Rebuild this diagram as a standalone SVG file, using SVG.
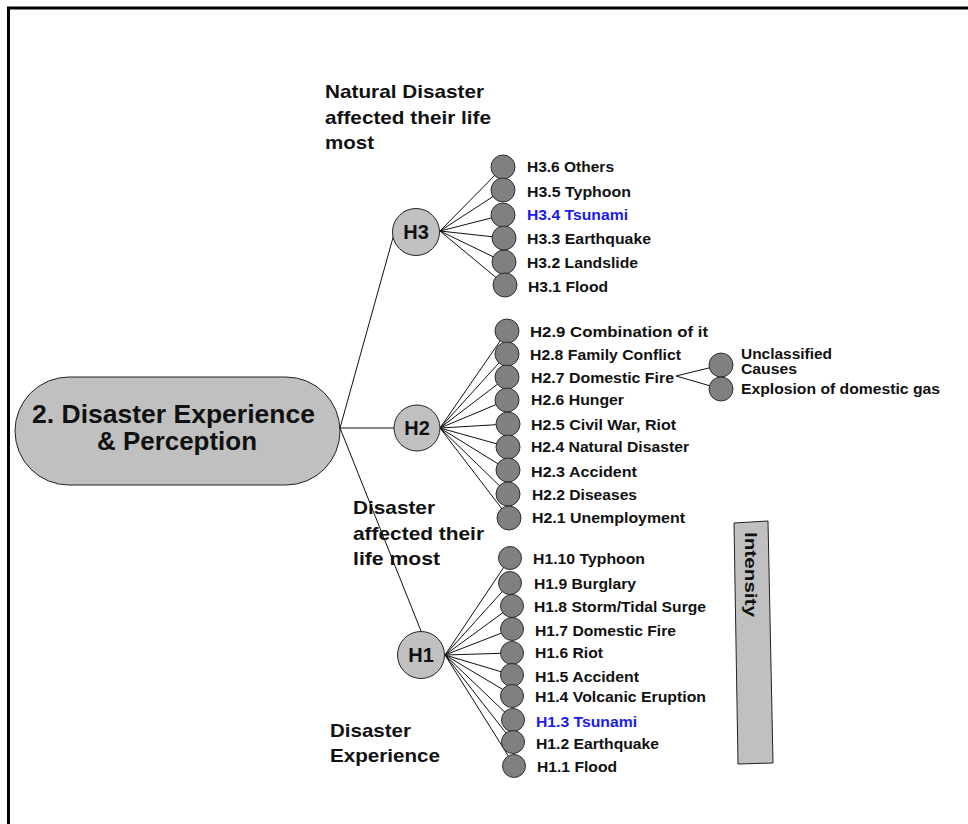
<svg xmlns="http://www.w3.org/2000/svg" width="968" height="824" viewBox="0 0 968 824">
  <style>
    text { font-family: "Liberation Sans", Arial, sans-serif; font-weight: bold; fill: #111; }
    .lbl { font-size: 15px; }
    .sub { font-size: 14px; }
    .blue { fill: #1a1af0; }
    .head { font-size: 19px; }
    .hub { font-size: 20px; text-anchor: middle; }
    .hubc { fill: #c0c0c0; stroke: #222; stroke-width: 1; }
    .leaf { fill: #808080; stroke: #222; stroke-width: 0.9; }
    .conn line { stroke: #111; stroke-width: 1; }
  </style>

  <!-- frame -->
  <g id="frame" fill="none" stroke="#000" stroke-width="3">
    <line x1="7" y1="8" x2="968" y2="8"/>
    <line x1="8.5" y1="7" x2="8.5" y2="824"/>
  </g>

  <!-- connectors -->
  <g id="connectors" class="conn">
    <!-- root to hubs -->
    <line x1="340" y1="428" x2="394" y2="234"/>
    <line x1="340" y1="428" x2="395" y2="428"/>
    <line x1="340" y1="428" x2="421" y2="631"/>
    <!-- H3 fan -->
    <line x1="440" y1="231" x2="503" y2="167"/>
    <line x1="440" y1="231" x2="503" y2="190"/>
    <line x1="440" y1="231" x2="503" y2="215"/>
    <line x1="440" y1="231" x2="504" y2="238"/>
    <line x1="440" y1="231" x2="504" y2="262"/>
    <line x1="440" y1="231" x2="505" y2="285"/>
    <!-- H2 fan -->
    <line x1="440" y1="428" x2="507" y2="331"/>
    <line x1="440" y1="428" x2="507" y2="354"/>
    <line x1="440" y1="428" x2="507" y2="377"/>
    <line x1="440" y1="428" x2="507" y2="400"/>
    <line x1="440" y1="428" x2="508" y2="424"/>
    <line x1="440" y1="428" x2="508" y2="447"/>
    <line x1="440" y1="428" x2="508" y2="470"/>
    <line x1="440" y1="428" x2="508" y2="494"/>
    <line x1="440" y1="428" x2="509" y2="518"/>
    <!-- H2.7 sub-branch -->
    <line x1="676" y1="376" x2="721" y2="365"/>
    <line x1="676" y1="376" x2="721" y2="389"/>
    <!-- H1 fan -->
    <line x1="445" y1="655" x2="510" y2="558"/>
    <line x1="445" y1="655" x2="510" y2="583"/>
    <line x1="445" y1="655" x2="512" y2="606"/>
    <line x1="445" y1="655" x2="512" y2="629"/>
    <line x1="445" y1="655" x2="512" y2="653"/>
    <line x1="445" y1="655" x2="512" y2="675"/>
    <line x1="445" y1="655" x2="512" y2="695"/>
    <line x1="445" y1="655" x2="513" y2="720"/>
    <line x1="445" y1="655" x2="513" y2="742"/>
    <line x1="445" y1="655" x2="514" y2="765"/>
  </g>

  <!-- root -->
  <g id="root">
    <rect x="15" y="377" width="325" height="108" rx="54" ry="54" class="hubc"/>
    <text x="32" y="423" font-size="25" textLength="283" lengthAdjust="spacingAndGlyphs">2. Disaster Experience</text>
    <text x="97" y="450" font-size="25" textLength="160" lengthAdjust="spacingAndGlyphs">&amp; Perception</text>
  </g>

  <!-- group headings -->
  <g id="heading-h3" class="head">
    <text x="325" y="98" textLength="159" lengthAdjust="spacingAndGlyphs">Natural Disaster</text>
    <text x="325" y="124" textLength="166" lengthAdjust="spacingAndGlyphs">affected their life</text>
    <text x="325" y="149" textLength="49" lengthAdjust="spacingAndGlyphs">most</text>
  </g>
  <g id="heading-h2" class="head">
    <text x="353" y="514" textLength="82" lengthAdjust="spacingAndGlyphs">Disaster</text>
    <text x="353" y="540" textLength="131" lengthAdjust="spacingAndGlyphs">affected their</text>
    <text x="353" y="565" textLength="87" lengthAdjust="spacingAndGlyphs">life most</text>
  </g>
  <g id="heading-h1" class="head">
    <text x="330" y="737" textLength="81" lengthAdjust="spacingAndGlyphs">Disaster</text>
    <text x="330" y="762" textLength="110" lengthAdjust="spacingAndGlyphs">Experience</text>
  </g>

  <!-- hubs -->
  <g id="H3">
    <circle cx="416" cy="232" r="23.5" class="hubc"/>
    <text x="416" y="239" class="hub">H3</text>
  </g>
  <g id="H2">
    <circle cx="417" cy="428" r="23" class="hubc"/>
    <text x="417" y="435" class="hub">H2</text>
  </g>
  <g id="H1">
    <circle cx="421" cy="655" r="23.5" class="hubc"/>
    <text x="421" y="662" class="hub">H1</text>
  </g>

  <!-- H3 leaves -->
  <g id="H3.6"><circle cx="503" cy="167" r="12" class="leaf"/><text x="527" y="172" class="lbl" textLength="87" lengthAdjust="spacingAndGlyphs">H3.6 Others</text></g>
  <g id="H3.5"><circle cx="503" cy="190" r="12" class="leaf"/><text x="527" y="197" class="lbl" textLength="104" lengthAdjust="spacingAndGlyphs">H3.5 Typhoon</text></g>
  <g id="H3.4"><circle cx="503" cy="215" r="12" class="leaf"/><text x="527" y="220" class="lbl blue" textLength="101" lengthAdjust="spacingAndGlyphs">H3.4 Tsunami</text></g>
  <g id="H3.3"><circle cx="504" cy="238" r="12" class="leaf"/><text x="527" y="244" class="lbl" textLength="124" lengthAdjust="spacingAndGlyphs">H3.3 Earthquake</text></g>
  <g id="H3.2"><circle cx="504" cy="262" r="12" class="leaf"/><text x="527" y="268" class="lbl" textLength="111" lengthAdjust="spacingAndGlyphs">H3.2 Landslide</text></g>
  <g id="H3.1"><circle cx="505" cy="285" r="12" class="leaf"/><text x="528" y="292" class="lbl" textLength="80" lengthAdjust="spacingAndGlyphs">H3.1 Flood</text></g>

  <!-- H2 leaves -->
  <g id="H2.9"><circle cx="507" cy="331" r="12" class="leaf"/><text x="530" y="337" class="lbl" textLength="178" lengthAdjust="spacingAndGlyphs">H2.9 Combination of it</text></g>
  <g id="H2.8"><circle cx="507" cy="354" r="12" class="leaf"/><text x="530" y="360" class="lbl" textLength="151" lengthAdjust="spacingAndGlyphs">H2.8 Family Conflict</text></g>
  <g id="H2.7"><circle cx="507" cy="377" r="12" class="leaf"/><text x="531" y="383" class="lbl" textLength="143" lengthAdjust="spacingAndGlyphs">H2.7 Domestic Fire</text></g>
  <g id="H2.6"><circle cx="507" cy="400" r="12" class="leaf"/><text x="531" y="405" class="lbl" textLength="93" lengthAdjust="spacingAndGlyphs">H2.6 Hunger</text></g>
  <g id="H2.5"><circle cx="508" cy="424" r="12" class="leaf"/><text x="531" y="430" class="lbl" textLength="145" lengthAdjust="spacingAndGlyphs">H2.5 Civil War, Riot</text></g>
  <g id="H2.4"><circle cx="508" cy="447" r="12" class="leaf"/><text x="531" y="452" class="lbl" textLength="158" lengthAdjust="spacingAndGlyphs">H2.4 Natural Disaster</text></g>
  <g id="H2.3"><circle cx="508" cy="470" r="12" class="leaf"/><text x="531" y="477" class="lbl" textLength="106" lengthAdjust="spacingAndGlyphs">H2.3 Accident</text></g>
  <g id="H2.2"><circle cx="508" cy="494" r="12" class="leaf"/><text x="532" y="500" class="lbl" textLength="105" lengthAdjust="spacingAndGlyphs">H2.2 Diseases</text></g>
  <g id="H2.1"><circle cx="509" cy="518" r="12" class="leaf"/><text x="532" y="523" class="lbl" textLength="153" lengthAdjust="spacingAndGlyphs">H2.1 Unemployment</text></g>

  <!-- H2.7 sub-leaves -->
  <g id="H2.7.1"><circle cx="721" cy="365" r="12" class="leaf"/><text x="741" y="359" class="sub" textLength="91" lengthAdjust="spacingAndGlyphs">Unclassified</text><text x="741" y="374" class="sub" textLength="56" lengthAdjust="spacingAndGlyphs">Causes</text></g>
  <g id="H2.7.2"><circle cx="721" cy="389" r="12" class="leaf"/><text x="741" y="394" class="sub" textLength="199" lengthAdjust="spacingAndGlyphs">Explosion of domestic gas</text></g>

  <!-- H1 leaves -->
  <g id="H1.10"><circle cx="510" cy="558" r="11.5" class="leaf"/><text x="533" y="564" class="lbl" textLength="112" lengthAdjust="spacingAndGlyphs">H1.10 Typhoon</text></g>
  <g id="H1.9"><circle cx="510" cy="583" r="11.5" class="leaf"/><text x="534" y="589" class="lbl" textLength="102" lengthAdjust="spacingAndGlyphs">H1.9 Burglary</text></g>
  <g id="H1.8"><circle cx="512" cy="606" r="11.5" class="leaf"/><text x="534" y="612" class="lbl" textLength="172" lengthAdjust="spacingAndGlyphs">H1.8 Storm/Tidal Surge</text></g>
  <g id="H1.7"><circle cx="512" cy="629" r="11.5" class="leaf"/><text x="535" y="636" class="lbl" textLength="141" lengthAdjust="spacingAndGlyphs">H1.7 Domestic Fire</text></g>
  <g id="H1.6"><circle cx="512" cy="653" r="11.5" class="leaf"/><text x="535" y="658" class="lbl" textLength="68" lengthAdjust="spacingAndGlyphs">H1.6 Riot</text></g>
  <g id="H1.5"><circle cx="512" cy="675" r="11.5" class="leaf"/><text x="535" y="682" class="lbl" textLength="104" lengthAdjust="spacingAndGlyphs">H1.5 Accident</text></g>
  <g id="H1.4"><circle cx="512" cy="696" r="11.5" class="leaf"/><text x="535" y="702" class="lbl" textLength="171" lengthAdjust="spacingAndGlyphs">H1.4 Volcanic Eruption</text></g>
  <g id="H1.3"><circle cx="513" cy="720" r="11.5" class="leaf"/><text x="536" y="727" class="lbl blue" textLength="101" lengthAdjust="spacingAndGlyphs">H1.3 Tsunami</text></g>
  <g id="H1.2"><circle cx="513" cy="742" r="11.5" class="leaf"/><text x="536" y="749" class="lbl" textLength="123" lengthAdjust="spacingAndGlyphs">H1.2 Earthquake</text></g>
  <g id="H1.1"><circle cx="514" cy="766" r="11.5" class="leaf"/><text x="537" y="772" class="lbl" textLength="80" lengthAdjust="spacingAndGlyphs">H1.1 Flood</text></g>

  <!-- intensity bar -->
  <g id="intensity">
    <polygon points="734,523 768,521 773,763 738,764" fill="#c0c0c0" stroke="#222" stroke-width="1"/>
    <text transform="translate(745,532) rotate(90)" font-size="17" textLength="85" lengthAdjust="spacingAndGlyphs">Intensity</text>
  </g>
</svg>
